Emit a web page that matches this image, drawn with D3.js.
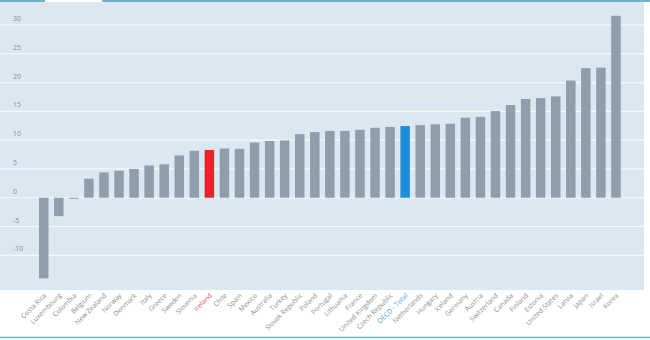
<!DOCTYPE html>
<html>
<head>
<meta charset="utf-8">
<script src="https://cdn.jsdelivr.net/npm/d3@7"></script>
<style>
  body { margin: 0; background: #fff; }
  svg { display: block; font-family: "Open Sans", "DejaVu Sans", sans-serif; }
</style>
</head>
<body>
<div id="chart"></div>
<script>
// countries, ordered low -> high
var countries = ["Costa Rica", "Luxembourg", "Colombia", "Belgium", "New Zealand", "Norway", "Denmark",
  "Italy", "Greece", "Sweden", "Slovenia", "Ireland", "Chile", "Spain", "Mexico", "Australia", "Turkey",
  "Slovak Republic", "Poland", "Portugal", "Lithuania", "France", "United Kingdom", "Czech Republic",
  "OECD - Total", "Netherlands", "Hungary", "Iceland", "Germany", "Austria", "Switzerland", "Canada",
  "Finland", "Estonia", "United States", "Latvia", "Japan", "Israel", "Korea"];

var values = [-14.0, -3.2, -0.2, 3.3, 4.4, 4.7, 5.0,
  5.6, 5.8, 7.35, 8.15, 8.3, 8.55, 8.5, 9.6, 9.85, 9.95,
  11.05, 11.4, 11.6, 11.6, 11.8, 12.15, 12.3,
  12.45, 12.6, 12.75, 12.85, 13.9, 14.05, 15.05, 16.1,
  17.15, 17.3, 17.6, 20.35, 22.5, 22.6, 31.6];

var yTicks = [-10, -5, 0, 5, 10, 15, 20, 25, 30];

var highlight = { "Ireland": "#e2262b", "OECD - Total": "#1e8ed8" };
var labelColor = { "Ireland": "#e0525a", "OECD - Total": "#4a9fdc" };

var width = 650, height = 340;

var svg = d3.select("#chart").append("svg")
    .attr("width", width)
    .attr("height", height);

// plot panel
svg.append("rect")
    .attr("x", 0).attr("y", 2)
    .attr("width", 644).attr("height", 288)
    .attr("fill", "#dce8f1");

// teal rules top and bottom
svg.append("line").attr("x1", 0).attr("x2", 45).attr("y1", 1).attr("y2", 1)
    .attr("stroke", "#72b2c9").attr("stroke-width", 2);
svg.append("line").attr("x1", 102).attr("x2", 650).attr("y1", 1).attr("y2", 1)
    .attr("stroke", "#72b2c9").attr("stroke-width", 2);
svg.append("line").attr("x1", 0).attr("x2", 650).attr("y1", 337.5).attr("y2", 337.5)
    .attr("stroke", "#6bb3c0").attr("stroke-width", 1.5);

var x = d3.scaleBand()
    .domain(countries)
    .range([36.2, 623.5])
    .paddingInner(0.37)
    .paddingOuter(0.185);

var y = d3.scaleLinear()
    .domain([-10, 30])
    .range([255.3, 25]);

// gridlines
svg.append("g")
    .selectAll("line")
    .data(yTicks)
    .enter()
    .append("line")
    .attr("x1", 0).attr("x2", 644)
    .attr("y1", function(d) { return y(d); })
    .attr("y2", function(d) { return y(d); })
    .attr("stroke", "#f7fafc")
    .attr("stroke-width", 1.2);

// y labels
svg.append("g")
    .selectAll("text")
    .data(yTicks)
    .enter()
    .append("text")
    .attr("x", 13)
    .attr("y", function(d) { return y(d) - 4; })
    .attr("font-size", 7)
    .attr("fill", "#8c8c8c")
    .text(function(d) { return d; });

// bars
svg.append("g")
    .selectAll("rect")
    .data(countries)
    .enter()
    .append("rect")
    .attr("x", function(d) { return x(d); })
    .attr("width", x.bandwidth())
    .attr("y", function(d, i) { return y(Math.max(0, values[i])); })
    .attr("height", function(d, i) { return Math.max(0.8, Math.abs(y(values[i]) - y(0))); })
    .attr("fill", function(d) { return highlight[d] || "#8e9fab"; });

// rotated country labels
svg.append("g")
    .selectAll("text")
    .data(countries)
    .enter()
    .append("text")
    .attr("transform", function(d) {
        return "translate(" + (x(d) + x.bandwidth() / 2 + 3) + ",296) rotate(-45)";
    })
    .attr("text-anchor", "end")
    .attr("font-size", 6.8)
    .attr("fill", function(d) { return labelColor[d] || "#8c8c8c"; })
    .text(function(d) { return d; });
</script>
</body>
</html>
